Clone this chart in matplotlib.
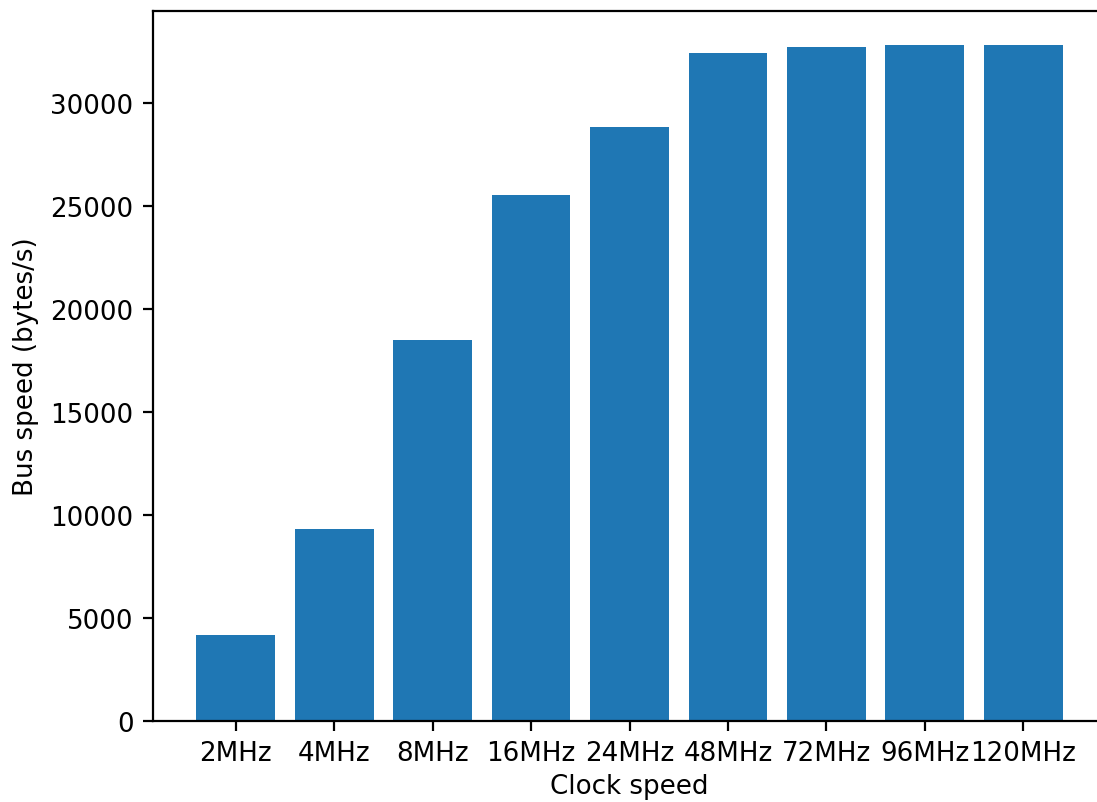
import matplotlib
matplotlib.use("Agg")
import matplotlib.pyplot as plt

# bus throughput measured at each clock setting
clock_labels = ["2MHz", "4MHz", "8MHz", "16MHz", "24MHz", "48MHz", "72MHz", "96MHz", "120MHz"]
bus_speed = [4170, 9320, 18490, 25530, 28830, 32430, 32720, 32810, 32810]

plt.rcParams["font.size"] = 9.4

W, H, DPI = 1097, 803, 200
fig = plt.figure(figsize=(W / DPI, H / DPI), dpi=DPI)
# axes placed in pixel terms; the right edge runs a little past the canvas
left, right, bottom, top = 153, 1106, 81, 791
ax = fig.add_axes([left / W, bottom / H, (right - left) / W, (top - bottom) / H])

ax.bar(clock_labels, bus_speed, color="#1f77b4")
ax.set_xlabel("Clock speed", labelpad=2.5)
ax.set_ylabel("Bus speed (bytes/s)")

fig.savefig("out.png", dpi=DPI)
